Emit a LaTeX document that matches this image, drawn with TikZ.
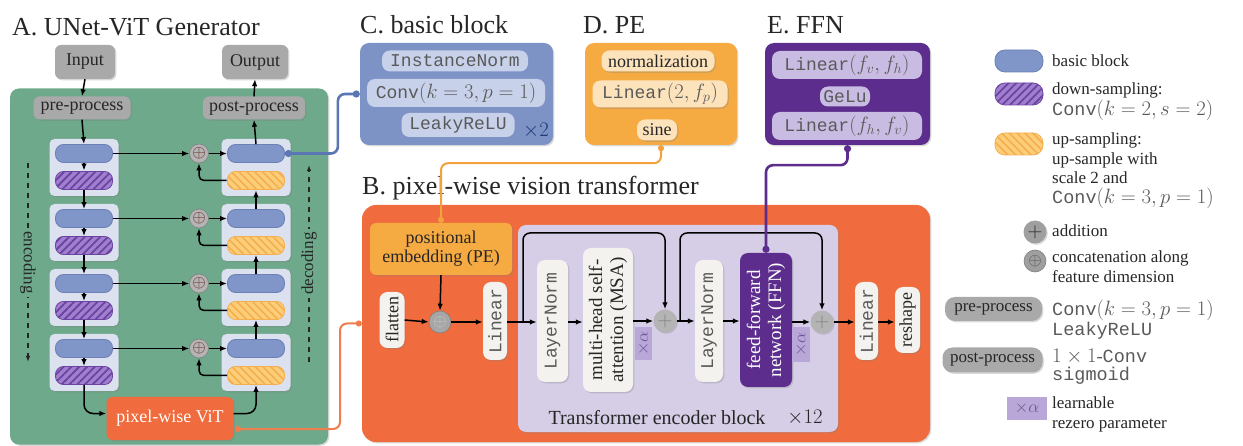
\documentclass[tikz,border=0pt]{standalone}
\usepackage{fontspec}
\setmainfont{Liberation Serif}
\setmonofont{Liberation Mono}
\usetikzlibrary{arrows.meta,shadows,patterns.meta,calc}

\newcommand\bigmath[1]{{\fontsize{20.74}{21}\selectfont$#1$}}

\definecolor{agreen}{HTML}{6DA98A}
\definecolor{grpfill}{HTML}{DCE1F0}
\definecolor{bbfill}{HTML}{8095C8}
\definecolor{bbdraw}{HTML}{6C80B6}
\definecolor{dsfill}{HTML}{A17FCF}
\definecolor{dsline}{HTML}{6B44A2}
\definecolor{usfill}{HTML}{FCCE7A}
\definecolor{usline}{HTML}{F5AE4E}
\definecolor{procgray}{HTML}{A9A9A9}
\definecolor{vitorange}{HTML}{F06B3D}
\definecolor{cblue}{HTML}{7D92C5}
\definecolor{cpill}{HTML}{C8D1EA}
\definecolor{cdark}{HTML}{1E3A78}
\definecolor{peorange}{HTML}{F6AA42}
\definecolor{pecream}{HTML}{FDE3BC}
\definecolor{ffnpurple}{HTML}{5C2D8D}
\definecolor{ffnpill}{HTML}{C9BCE3}
\definecolor{tblav}{HTML}{D6CDE6}
\definecolor{pillwhite}{HTML}{F3F2EE}
\definecolor{alphabox}{HTML}{B9A7D7}
\definecolor{alphatext}{HTML}{6C5699}
\definecolor{circgray}{HTML}{B4B4B4}
\definecolor{ink}{HTML}{262626}
\definecolor{monoink}{HTML}{5A5A5A}
\definecolor{linkorange}{HTML}{EE7E4E}
\definecolor{linkblue}{HTML}{5A77B3}
\definecolor{linkpe}{HTML}{F2A23C}

\tikzset{
  body/.style={font=\fontsize{18}{20}\selectfont, text=ink},
  heading/.style={font=\fontsize{26}{28}\selectfont, text=ink, anchor=base west, inner sep=0},
  shade/.style={drop shadow={shadow xshift=1.3pt, shadow yshift=-1.3pt, opacity=0.3}},
  procbox/.style={body, fill=procgray, rounded corners=6pt, shade, inner sep=0},
  grpbox/.style={fill=grpfill, rounded corners=5pt, shade, minimum width=69pt, minimum height=57pt, inner sep=0},
  bblock/.style={fill=bbfill, draw=bbdraw, line width=0.8pt, rounded corners=8pt,
    minimum width=57pt, minimum height=18pt, inner sep=0},
  dsamp/.style={draw=dsline, line width=0.8pt, rounded corners=8pt, minimum width=57pt,
    minimum height=18pt, inner sep=0, preaction={fill=dsfill},
    pattern={Lines[angle=45,distance=5.5pt,line width=1.8pt]}, pattern color=dsline},
  usamp/.style={draw=usline, line width=0.8pt, rounded corners=8pt, minimum width=57pt,
    minimum height=18pt, inner sep=0, preaction={fill=usfill},
    pattern={Lines[angle=-45,distance=5.5pt,line width=1.6pt]}, pattern color=usline},
  concat/.style={circle, fill=circgray, draw=gray, line width=0.6pt, minimum size=19pt,
    inner sep=0, font=\fontsize{17}{17}\selectfont, text=ink!70!red},
  addn/.style={circle, fill=circgray, minimum size=23pt, inner sep=0, shade,
    font=\fontsize{22}{22}\selectfont, text=gray},
  arr/.style={-{Latex[length=7pt,width=5.5pt]}, line width=1.5pt, draw=black},
  link/.style={line width=2.6pt, rounded corners=7pt, {Circle[length=7pt]}-{Circle[length=7pt]}},
  slimlink/.style={line width=2pt, rounded corners=7pt, {Circle[length=6pt]}-{Circle[length=6pt]}},
  panel/.style={rounded corners=9pt, shade, inner sep=0},
  cpillst/.style={fill=cpill, rounded corners=8pt, inner sep=0, font=\fontsize{18}{20}\selectfont\ttfamily, text=monoink},
  dpillst/.style={fill=pecream, rounded corners=8pt, inner sep=0, shade, body},
  epillst/.style={fill=ffnpill, rounded corners=8pt, inner sep=0, font=\fontsize{18}{20}\selectfont\ttfamily, text=monoink},
  vpill/.style={rotate=90, fill=pillwhite, rounded corners=8pt, shade, inner sep=0},
  alphatag/.style={rotate=90, fill=alphabox, inner sep=0, text=alphatext, font=\fontsize{16}{16}\selectfont},
  legtext/.style={font=\fontsize{17}{19.5}\selectfont, text=ink, align=left, inner sep=0},
  monotext/.style={font=\fontsize{18.5}{18}\selectfont, text=monoink, align=left, inner sep=0},
}

\begin{document}
\begin{tikzpicture}[x=1pt, y=-1pt]
\useasboundingbox (0,0) rectangle (1243,446);

% ---------------- A. UNet-ViT generator ----------------
\node[heading] (tA) at (12,36) {A. UNet-ViT Generator};
\node[panel, fill=agreen, minimum width=318pt, minimum height=356pt] (gA) at (169,266.5) {};

\node[procbox, minimum width=60pt, minimum height=34pt] (in) at (85,62) {Input};
\node[procbox, minimum width=66pt, minimum height=34pt] (out) at (255,62) {Output};
\node[procbox, minimum width=97pt, minimum height=23pt] (pre) at (82,108) {pre-process};
\node[procbox, minimum width=102pt, minimum height=23pt] (post) at (254,108) {post-process};

\foreach \i/\c in {1/167.5,2/232.5,3/297.5,4/362.5}{
  \node[grpbox] (eg\i) at (84,\c) {};
  \node[grpbox] (dg\i) at (256,\c) {};
  \node[bblock] (eb\i) at (84,\c-14) {};
  \node[dsamp] (ep\i) at (84,\c+13) {};
  \node[bblock] (db\i) at (256,\c-14) {};
  \node[usamp] (dy\i) at (256,\c+13) {};
  \node[concat] (oc\i) at (199,\c-14) {$\oplus$};
  \draw[arr] (eb\i.east) -- (oc\i.west);
  \draw[arr] (oc\i.east) -- (db\i.west);
  \draw[arr, rounded corners=5pt] (dy\i.west) -| (oc\i.south);
  \draw[arr] (eb\i.south) -- (ep\i.north);
}
\foreach \i in {1,2,3}{
  \pgfmathtruncatemacro\j{\i+1}
  \draw[arr] (ep\i.south) -- (eb\j.north);
  \draw[arr] (db\j.north) -- (dy\i.south);
}
\draw[arr] (in.south) -- (pre.north);
\draw[arr] (pre.south) -- (eb1.north);
\draw[arr] (db1.north) -- (post.south);
\draw[arr] (post.north) -- (out.south);

\node[fill=vitorange, rounded corners=6pt, shade, minimum width=127pt, minimum height=43pt,
  font=\fontsize{18}{20}\selectfont, text=white] (vit) at (170,418.5) {pixel-wise ViT};
\draw[arr, rounded corners=9pt] (ep4.south) |- ($(vit.west)+(0,-5)$);
\draw[arr, rounded corners=9pt] ($(vit.east)+(0,-5)$) -| (dy4.south);

\coordinate (encT) at (28,163);
\coordinate (encB) at (28,362);
\coordinate (decB) at (309,362);
\coordinate (decT) at (309,165);
\draw[line width=1.2pt, dash pattern=on 5pt off 5pt, -{Latex[length=6pt,width=4.5pt]}, draw=ink]
  (encT) -- node[fill=agreen, rotate=-90, inner sep=3pt, font=\fontsize{17}{17}\selectfont, text=ink] {encoding} (encB);
\draw[line width=1.2pt, dash pattern=on 5pt off 5pt, -{Latex[length=6pt,width=4.5pt]}, draw=ink]
  (decB) -- node[fill=agreen, rotate=90, inner sep=3pt, font=\fontsize{17}{17}\selectfont, text=ink] {decoding} (decT);

% ---------------- C. basic block ----------------
\node[heading] (tC) at (360,34) {C. basic block};
\node[panel, fill=cblue, minimum width=193pt, minimum height=102pt] (C) at (456.5,94) {};
\node[cpillst, minimum width=146pt, minimum height=21pt] (cin) at (455,61) {InstanceNorm};
\node[cpillst, minimum width=178pt, minimum height=28pt] (cconv) at (456,93) {Conv\bigmath{(k=3,p=1)}};
\node[cpillst, minimum width=113pt, minimum height=24pt] (crelu) at (458,125) {LeakyReLU};
\node[font=\fontsize{20}{20}\selectfont, text=cdark, inner sep=0] (ctimes) at (536,131) {$\times 2$};

% ---------------- D. PE ----------------
\node[heading] (tD) at (583,34) {D. PE};
\node[panel, fill=peorange, minimum width=152pt, minimum height=102pt] (D) at (661,94) {};
\node[dpillst, minimum width=113pt, minimum height=21pt] (dnorm) at (658,61) {normalization};
\node[dpillst, minimum width=135pt, minimum height=27pt, font=\fontsize{18}{20}\selectfont\ttfamily, text=monoink] (dlin) at (660,94) {Linear\bigmath{(2,f_p)}};
\node[dpillst, minimum width=40pt, minimum height=21pt] (dsine) at (657,130) {sine};

% ---------------- E. FFN ----------------
\node[heading] (tE) at (767,34) {E. FFN};
\node[panel, fill=ffnpurple, minimum width=165pt, minimum height=102pt] (E) at (847.5,94) {};
\node[epillst, minimum width=150pt, minimum height=28pt] (elin1) at (847,65) {Linear\bigmath{(f_v,f_h)}};
\node[epillst, minimum width=50pt, minimum height=20pt] (egelu) at (845,96.5) {GeLu};
\node[epillst, minimum width=150pt, minimum height=28pt] (elin2) at (847,126) {Linear\bigmath{(f_h,f_v)}};

% ---------------- B. pixel-wise vision transformer ----------------
\node[panel, fill=vitorange, rounded corners=14pt, minimum width=568pt, minimum height=237pt] (B) at (646,323.5) {};
\node[panel, fill=tblav, rounded corners=8pt, minimum width=320pt, minimum height=207pt] (tb) at (678,328.5) {};
\node[font=\fontsize{20}{20}\selectfont, text=ink, inner sep=0] (tbl) at (657,418) {Transformer encoder block};
\node[font=\fontsize{20}{20}\selectfont, text=ink, inner sep=0] (tbn) at (805,418) {$\times 12$};

\node[fill=peorange, rounded corners=6pt, shade, minimum width=142pt, minimum height=52pt,
  align=center, font=\fontsize{18}{19}\selectfont, text=ink, inner sep=0] (pe) at (441,249) {positional\\embedding (PE)};

\node[vpill, minimum width=56pt, minimum height=25pt, body] (fl) at (392,320) {flatten};
\node[concat, minimum size=22pt, fill=gray!70, text=gray!40] (pc) at (440,322) {$\oplus$};
\node[vpill, minimum width=78pt, minimum height=24pt, font=\fontsize{18}{18}\selectfont\ttfamily, text=monoink] (lin1) at (495,321) {Linear};
\node[vpill, minimum width=122pt, minimum height=31pt, font=\fontsize{18}{18}\selectfont\ttfamily, text=monoink] (ln1) at (552.5,321) {LayerNorm};
\node[vpill, minimum width=144pt, minimum height=50pt, align=center, font=\fontsize{19}{21}\selectfont, text=ink] (msa) at (608,320) {multi-head self-\\attention (MSA)};
\node[alphatag, minimum width=33pt, minimum height=17pt] (al1) at (643.5,343.5) {$\times\alpha$};
\node[addn] (p1) at (665,321) {$+$};
\node[vpill, minimum width=122pt, minimum height=28pt, font=\fontsize{18}{18}\selectfont\ttfamily, text=monoink] (ln2) at (709,321) {LayerNorm};
\node[vpill, fill=ffnpurple, minimum width=134pt, minimum height=52pt, align=center, font=\fontsize{19}{21}\selectfont, text=white] (ffn) at (766,320) {feed-forward\\network (FFN)};
\node[alphatag, minimum width=35pt, minimum height=18pt] (al2) at (801,344.5) {$\times\alpha$};
\node[addn] (p2) at (822,322) {$+$};
\node[vpill, minimum width=78pt, minimum height=23pt, font=\fontsize{18}{18}\selectfont\ttfamily, text=monoink] (lin2) at (866.5,321) {Linear};
\node[vpill, minimum width=66pt, minimum height=25pt, body] (rs) at (907.5,320) {reshape};

\draw[arr] (fl.south) -- (pc.west);
\draw[arr] (pe.south) -- (pc.north);
\draw[arr] (pc.east) -- (lin1.north |- pc.east);
\draw[arr] (lin1.south |- pc.east) -- (ln1.north |- pc.east);
\draw[arr] (ln1.south |- pc.east) -- (msa.north |- pc.east);
\draw[arr] (msa.south |- p1.west) -- (p1.west);
\draw[arr] (p1.east) -- (ln2.north |- p1.east);
\draw[arr] (ln2.south |- p1.east) -- (ffn.north |- p1.east);
\draw[arr] (ffn.south |- p2.west) -- (p2.west);
\draw[arr] (p2.east) -- (lin2.north |- p2.east);
\draw[arr] (lin2.south |- p2.east) -- (rs.north |- p2.east);

\coordinate (s1) at (523,322);
\coordinate (s2) at (680,321);
\draw[arr, rounded corners=7pt] (s1) -- (523,233) -| (p1.north);
\draw[arr, rounded corners=7pt] (s2) -- (680,233) -| (p2.north);

\node[heading] (tB) at (362,195) {B. pixel-wise vision transformer};

% ---------------- links between panels ----------------
\draw[link, draw=linkblue] (db1.east) -- ++(53,0) |- (C.west);
\coordinate (vitout) at (235,429);
\draw[slimlink, draw=linkorange] (vitout) -- (340,429) |- (B.west);
\draw[slimlink, draw=linkpe] (D.south) -- ++(0,18) -| (pe.north);
\draw[link, draw=ffnpurple] (E.south) -- ++(0,20) -| (ffn.east);

% ---------------- legend ----------------
\node[bblock, minimum width=48pt, minimum height=22pt, rounded corners=10pt] (lbb) at (1019,61) {};
\node[legtext, anchor=west] (lbbt) at (1052,61) {basic block};
\node[dsamp, minimum width=48pt, minimum height=22pt, rounded corners=10pt] (lds) at (1019,94) {};
\node[legtext, anchor=north west] (ldst) at (1052,83) {down-sampling:\\[1pt]\textcolor{monoink}{\fontsize{18.5}{18}\selectfont\texttt{Conv}\bigmath{(k=2,s=2)}}};
\node[usamp, minimum width=48pt, minimum height=22pt, rounded corners=10pt] (lus) at (1019,144) {};
\node[legtext, anchor=north west] (lust) at (1052,133) {up-sampling:\\up-sample with\\scale 2 and\\\textcolor{monoink}{\fontsize{18.5}{18}\selectfont\texttt{Conv}\bigmath{(k=3,p=1)}}};
\node[addn, fill=gray!75, text=ink] (lad) at (1035,232) {$+$};
\node[legtext, anchor=west] (ladt) at (1052,231) {addition};
\node[concat, minimum size=22pt, fill=gray!75, text=ink!80] (lcc) at (1035,261) {$\oplus$};
\node[legtext, anchor=north west] (lcct) at (1052,251) {concatenation along\\feature dimension};
\node[procbox, minimum width=97pt, minimum height=24pt, font=\fontsize{17}{17}\selectfont, rounded corners=10pt] (lpre) at (993.5,309) {pre-process};
\node[monotext, anchor=north west] (lpret) at (1052,300) {\texttt{Conv}\bigmath{(k=3,p=1)}\\\texttt{LeakyReLU}};
\node[procbox, minimum width=100pt, minimum height=25pt, font=\fontsize{17}{17}\selectfont, rounded corners=10pt] (lpost) at (992.5,360) {post-process};
\node[monotext, anchor=north west] (lpostt) at (1052,349) {\bigmath{1\times 1}-\texttt{Conv}\\\texttt{sigmoid}};
\node[fill=alphabox, minimum width=40pt, minimum height=23pt, inner sep=0, text=alphatext, font=\fontsize{17}{17}\selectfont] (lal) at (1027,408.5) {$\times\alpha$};
\node[legtext, anchor=north west] (lalt) at (1052,397) {learnable\\rezero parameter};
\end{tikzpicture}
\end{document}
